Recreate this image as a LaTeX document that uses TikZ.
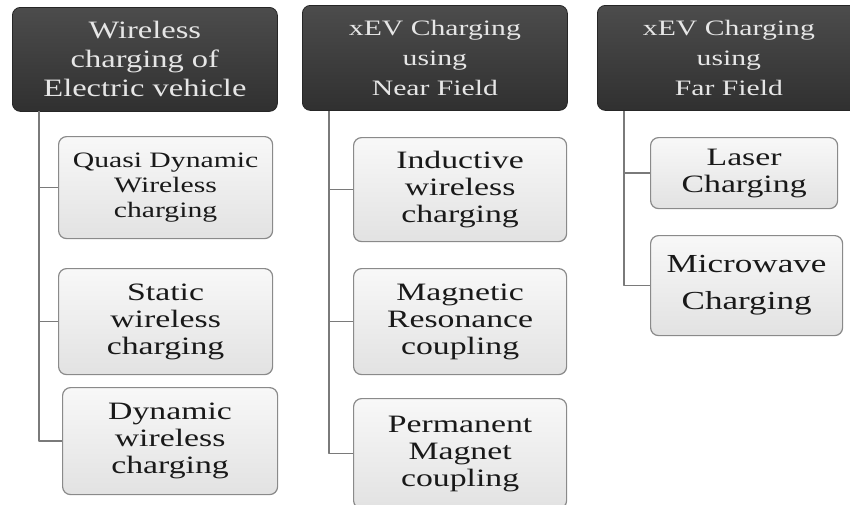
\documentclass[tikz,border=0pt]{standalone}
\usepackage{fontspec}
\setmainfont{Liberation Serif}
\newfontfamily\widefont[FakeStretch=1.35]{Liberation Serif}
\newfontfamily\headfont[FakeStretch=1.3]{Liberation Serif}
\usepackage{tikz}
\usetikzlibrary{positioning}
\definecolor{headtop}{HTML}{4C4C4C}
\definecolor{headbot}{HTML}{303030}
\definecolor{headtext}{HTML}{E6E6E6}
\definecolor{leafline}{HTML}{8A8A8A}
\definecolor{leaftop}{HTML}{F8F8F8}
\definecolor{leafbot}{HTML}{E2E2E2}
\definecolor{treegray}{HTML}{7A7A7A}
\tikzset{
every picture/.style={line cap=round,line join=round},
head box/.style={
  draw=headbot!80!black,
  rounded corners=8pt,
  line width=0.8pt,
  top color=headtop,
  bottom color=headbot,
  text=headtext,
  align=center,
  anchor=north west,
  inner sep=2pt,
  font=\widefont\fontsize{22}{30}\selectfont
},
leaf box/.style={
  draw=leafline,
  rounded corners=8pt,
  line width=1.2pt,
  top color=leaftop,
  bottom color=leafbot,
  text=black!90,
  align=center,
  anchor=north west,
  inner sep=2pt,
  font=\widefont\fontsize{25}{27}\selectfont
},
tree line/.style={draw=treegray, line width=1.4pt, line cap=butt}
}
\begin{document}
\begin{tikzpicture}[x=1pt,y=-1pt]
\fill[white] (0,0) rectangle (850,504);
\useasboundingbox (0,0) rectangle (850,504);
% column heads
\node[head box,minimum width=265,minimum height=104,
  font=\headfont\fontsize{25}{29}\selectfont] (evhead) at (12,7) {Wireless\\charging of\\Electric vehicle};
\node[head box,minimum width=265,minimum height=105] (nearhead) at (302,5) {xEV Charging\\using\\Near Field};
\node[head box,minimum width=263,minimum height=105] (farhead) at (597,5) {xEV Charging\\using\\Far Field};
% leaves
\node[leaf box,minimum width=214,minimum height=102,
  font=\widefont\fontsize{22}{25}\selectfont] (quasi) at (58,136) {Quasi Dynamic\\Wireless\\charging};
\node[leaf box,minimum width=214,minimum height=106] (static) at (58,268) {Static\\wireless\\charging};
\node[leaf box,minimum width=215,minimum height=107] (dynamic) at (62,387) {Dynamic\\wireless\\charging};
\node[leaf box,minimum width=213,minimum height=104] (inductive) at (353,137) {Inductive\\wireless\\charging};
\node[leaf box,minimum width=213,minimum height=106] (magnetic) at (353,268) {Magnetic\\Resonance\\coupling};
\node[leaf box,minimum width=213,minimum height=110] (permanent) at (353,398) {Permanent\\Magnet\\coupling};
\node[leaf box,minimum width=187,minimum height=71] (laser) at (650,137) {Laser\\Charging};
\node[leaf box,minimum width=192,minimum height=100,
  font=\widefont\fontsize{26}{37}\selectfont] (microwave) at (650,235) {Microwave\\Charging};
% trunks
\coordinate (evtrunk) at (39,111);
\coordinate (neartrunk) at (329,111);
\coordinate (fartrunk) at (624,111);
\draw[tree line] (evtrunk) |- (quasi.west);
\draw[tree line] (evtrunk) |- (static.west);
\draw[tree line] (evtrunk) |- (dynamic.west);
\draw[tree line] (neartrunk) |- (inductive.west);
\draw[tree line] (neartrunk) |- (magnetic.west);
\draw[tree line] (neartrunk) |- (permanent.west);
\draw[tree line] (fartrunk) |- (laser.west);
\draw[tree line] (fartrunk) |- (microwave.west);
\end{tikzpicture}
\end{document}
